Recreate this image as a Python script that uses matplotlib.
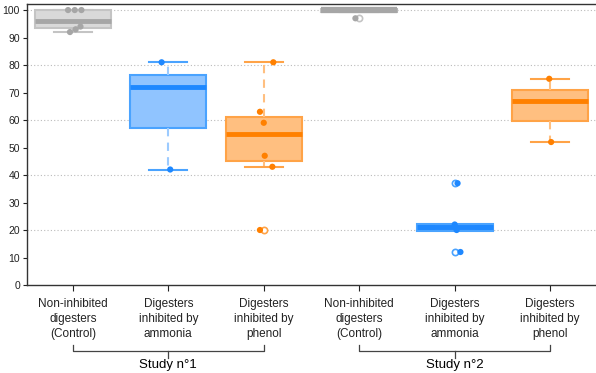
import matplotlib
matplotlib.use('Agg')
import matplotlib.pyplot as plt

plt.rcParams['font.family'] = ['Liberation Sans', 'DejaVu Sans']

labels = ['Non-inhibited\ndigesters\n(Control)', 'Digesters\ninhibited by\nammonia',
          'Digesters\ninhibited by\nphenol', 'Non-inhibited\ndigesters\n(Control)',
          'Digesters\ninhibited by\nammonia', 'Digesters\ninhibited by\nphenol']
studies = ['Study n°1', 'Study n°2']

# box statistics
med = [96, 72, 55, 100, 21, 67]
q1 = [93.5, 57, 45, 99.4, 19.8, 59.5]
q3 = [100, 76.5, 61, 100.4, 22.2, 71]
whislo = [92, 42, 43, 99.4, 20, 52]
whishi = [100, 81, 81, 100.4, 22, 75]
fliers = [[], [], [20], [97], [37, 12], []]

# individual digesters
points = [[100, 100, 100, 92, 93, 94],
          [81, 42],
          [81, 63, 59, 47, 43, 20],
          [97],
          [37, 22, 20, 12],
          [75, 52]]
jitter = [[-0.05, 0.02, 0.09, -0.03, 0.03, 0.08],
          [-0.07, 0.02],
          [0.1, -0.04, 0.0, 0.01, 0.09, -0.04],
          [-0.04],
          [0.03, 0.0, 0.02, 0.06],
          [-0.01, 0.01]]

gray = dict(dark='#a6a6a6', fill='#d9d9d9', edge='#c4c4c4', whisk='#c4c4c4')
blue = dict(dark='#1e88ff', fill='#90c4ff', edge='#4aa3ff', whisk='#9ccbff')
orange = dict(dark='#ff8000', fill='#ffbf80', edge='#ffa347', whisk='#ffbf80')
colors = [gray, blue, orange, gray, blue, orange]

fig = plt.figure(figsize=(5.96, 3.73), dpi=100)
ax = fig.add_axes([27 / 596, 88 / 373, 1 - 27 / 596, 281 / 373])

for i in range(6):
    c = colors[i]
    pos = i + 1
    flat = i in (3, 4)  # tight groups of study 2 look like solid bars
    stats = [dict(med=med[i], q1=q1[i], q3=q3[i], whislo=whislo[i], whishi=whishi[i],
                  fliers=fliers[i])]
    ax.bxp(stats, positions=[pos], widths=0.8, patch_artist=True, showcaps=True,
           boxprops=dict(facecolor=c['dark'] if flat else c['fill'],
                         edgecolor=c['edge'], linewidth=1.5),
           medianprops=dict(color=c['dark'], linewidth=3.5, solid_capstyle='butt'),
           whiskerprops=dict(color=c['whisk'], linewidth=1.5, linestyle=(0, (4, 3))),
           capprops=dict(color=c['edge'], linewidth=1.5),
           flierprops=dict(marker='o', markersize=4.5, markerfacecolor='white',
                           markeredgecolor=c['edge'], markeredgewidth=1.2),
           capwidths=0.4, zorder=2)
    if i == 3:
        ax.plot([pos - 0.4, pos + 0.4], [100, 100], color=gray['dark'], lw=4.5,
                solid_capstyle='butt', zorder=3)
    ax.scatter([pos + j for j in jitter[i]], points[i], s=20, color=c['dark'],
               edgecolor='none', zorder=4)

ax.set_xlim(0.52, 6.48)
ax.set_ylim(0, 102.2)
ax.set_yticks(range(0, 101, 10))
ax.set_xticks(range(1, 7))
ax.set_xticklabels(labels, fontsize=8.5, linespacing=1.3)
for y in range(20, 101, 20):
    ax.axhline(y, color='#bbbbbb', lw=0.8, ls=(0, (1, 2)), zorder=0)

ax.tick_params(axis='y', labelsize=7.5, length=3, pad=2, colors='#222222')
ax.tick_params(axis='x', length=4, pad=5.5, colors='#222222')
for s in ['left', 'bottom', 'top']:
    ax.spines[s].set_color('#333333')
    ax.spines[s].set_linewidth(1.0)
ax.spines['right'].set_visible(False)

# study brackets below the tick labels
tr = ax.get_xaxis_transform()
for k, name in enumerate(studies):
    a, b = 1 + 3 * k, 3 + 3 * k
    m = (a + b) / 2
    ax.plot([a, a, b, b], [-0.213, -0.235, -0.235, -0.213], color='#444444', lw=0.9,
            transform=tr, clip_on=False)
    ax.plot([m, m], [-0.235, -0.26], color='#444444', lw=0.9, transform=tr, clip_on=False)
    ax.text(m, -0.285, name, transform=tr, ha='center', va='center', fontsize=9.5)

fig.savefig('out.png', dpi=100)
